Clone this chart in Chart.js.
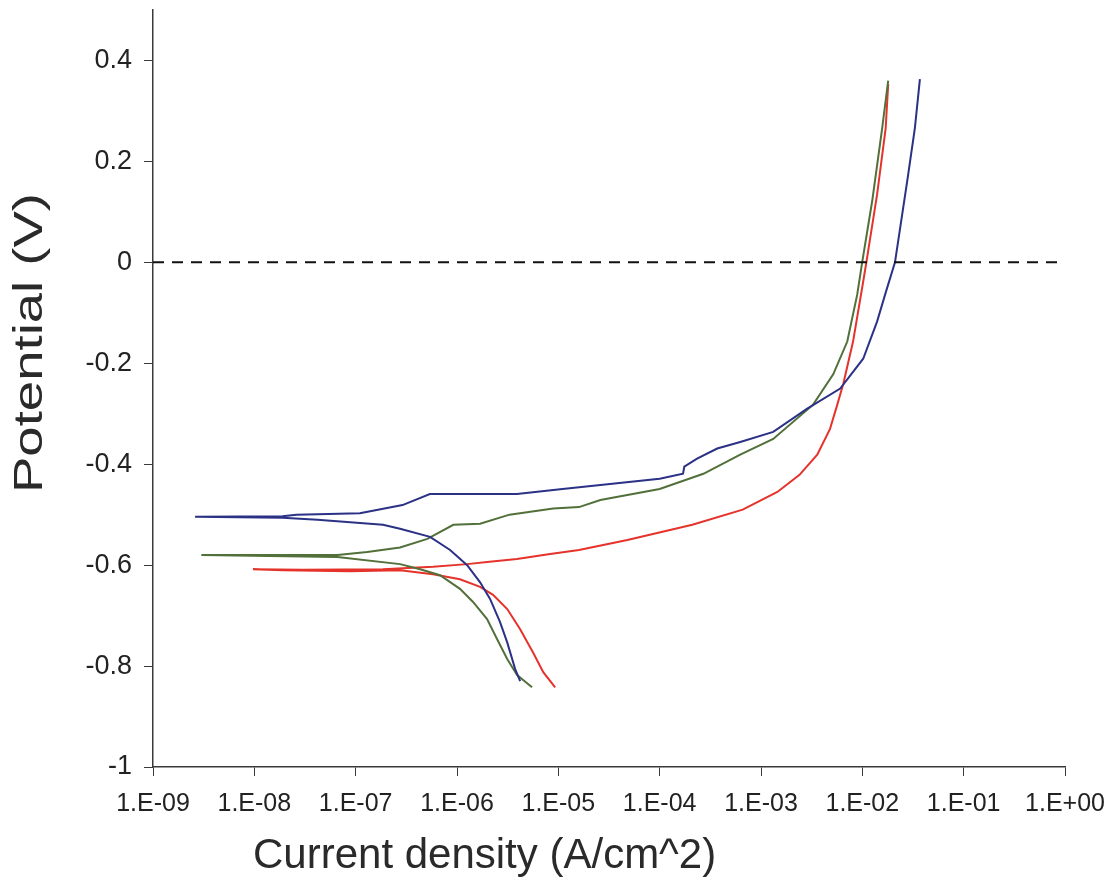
<!DOCTYPE html>
<html>
<head>
<meta charset="utf-8">
<script src="https://cdn.jsdelivr.net/npm/chart.js@4"></script>
<style>
  html, body { margin: 0; padding: 0; background: #fff; }
  #wrap { width: 1118px; height: 883px; position: relative; }
</style>
</head>
<body>
<div id="wrap"><canvas id="chart"></canvas></div>
<script>
// Axis ticks and titles
const xTickValues = [1e-9, 1e-8, 1e-7, 1e-6, 1e-5, 1e-4, 1e-3, 1e-2, 1e-1, 1e0];
const xTickLabels = ['1.E-09', '1.E-08', '1.E-07', '1.E-06', '1.E-05', '1.E-04', '1.E-03', '1.E-02', '1.E-01', '1.E+00'];
const yTickValues = [-1, -0.8, -0.6, -0.4, -0.2, 0, 0.2, 0.4];
const yTickLabels = ['-1', '-0.8', '-0.6', '-0.4', '-0.2', '0', '0.2', '0.4'];
const xTitle = 'Current density (A/cm^2)';
const yTitle = 'Potential (V)';

// Blue curve (cathodic end -> Ecorr tail -> anodic top)
const blueCurrent = [4.2e-6, 3.75e-6, 3.13e-6, 2.66e-6, 2.12e-6, 1.69e-6, 1.26e-6, 8.55e-7, 5.42e-7, 2.74e-7,
  1.86e-7, 4.2e-8, 1.9e-8, 2.6e-9,
  1.9e-8, 2.6e-8, 1.1e-7, 2.9e-7, 5.4e-7, 3.9e-6, 1.1e-5, 1.0e-4, 1.7e-4, 1.75e-4, 2.34e-4, 3.7e-4,
  6.24e-4, 1.32e-3, 2.86e-3, 6.05e-3, 1.02e-2, 1.4e-2, 1.7e-2, 2.1e-2, 2.8e-2, 3.3e-2, 3.7e-2];
const bluePotential = [-0.83, -0.806, -0.753, -0.713, -0.667, -0.634, -0.600, -0.570, -0.544, -0.528,
  -0.520, -0.510, -0.506, -0.504,
  -0.503, -0.500, -0.497, -0.481, -0.459, -0.459, -0.449, -0.429, -0.419, -0.405, -0.389, -0.369,
  -0.356, -0.336, -0.290, -0.250, -0.191, -0.117, -0.06, 0.0, 0.167, 0.266, 0.363];

// Green curve
const greenCurrent = [5.5e-6, 3.92e-6, 3.13e-6, 2.49e-6, 1.98e-6, 1.44e-6, 1.07e-6, 6.8e-7, 4.33e-7, 2.74e-7,
  6.6e-8, 3.0e-9,
  6.6e-8, 1.3e-7, 2.74e-7, 5.1e-7, 9.2e-7, 1.69e-6, 3.3e-6, 8.9e-6, 1.6e-5, 2.6e-5, 1.0e-4, 2.7e-4, 6.24e-4,
  1.32e-3, 3.27e-3, 5.16e-3, 7.1e-3, 8.9e-3, 1.0e-2, 1.25e-2, 1.57e-2, 1.8e-2];
const greenPotential = [-0.842, -0.818, -0.786, -0.747, -0.707, -0.673, -0.647, -0.620, -0.608, -0.598,
  -0.584, -0.580,
  -0.580, -0.574, -0.565, -0.548, -0.520, -0.518, -0.500, -0.488, -0.485, -0.471, -0.449, -0.419, -0.381,
  -0.350, -0.282, -0.222, -0.157, -0.064, 0.002, 0.121, 0.266, 0.36];

// Red curve
const redCurrent = [9.3e-6, 7.1e-6, 5.63e-6, 4.2e-6, 3.13e-6, 2.27e-6, 1.69e-6, 1.07e-6, 5.8e-7, 2.74e-7,
  8.8e-8, 1.9e-8, 9.7e-9,
  3e-8, 1.86e-7, 5.8e-7, 1.26e-6, 1.98e-6, 3.9e-6, 8.3e-6, 1.6e-5, 4.8e-5, 2.1e-4, 6.6e-4, 1.45e-3,
  2.4e-3, 3.59e-3, 4.8e-3, 5.7e-3, 6.5e-3, 8.1e-3, 1.02e-2, 1.1e-2, 1.4e-2, 1.7e-2, 1.8e-2];
const redPotential = [-0.842, -0.812, -0.773, -0.727, -0.687, -0.659, -0.643, -0.628, -0.618, -0.610,
  -0.612, -0.610, -0.608,
  -0.609, -0.608, -0.603, -0.598, -0.594, -0.588, -0.578, -0.570, -0.550, -0.520, -0.490, -0.455,
  -0.421, -0.381, -0.330, -0.280, -0.240, -0.157, -0.038, 0.002, 0.135, 0.266, 0.353];

// Zero potential reference line
const zeroLineCurrent = [1e-9, 1e0];
const zeroLinePotential = [0, 0];

function toPoints(xs, ys) {
  return xs.map((x, i) => ({ x: x, y: ys[i] }));
}

const axisColor = '#3a3a3a';
const fontFamily = '"Liberation Sans", Arial, sans-serif';

// Axis titles drawn by hand: the original has the x title off-centre
// and the y title stretched along its length
const axisTitles = {
  id: 'axisTitles',
  afterDraw(chart) {
    const ctx = chart.ctx;
    ctx.save();
    ctx.fillStyle = '#2a2a2a';
    ctx.textAlign = 'left';
    ctx.textBaseline = 'alphabetic';
    ctx.font = '42px ' + fontFamily;
    ctx.fillText(xTitle, 253, 868);
    ctx.font = '40px ' + fontFamily;
    const w = ctx.measureText(yTitle).width;
    ctx.translate(42, 493);
    ctx.rotate(-Math.PI / 2);
    ctx.scale(300 / w, 1);
    ctx.fillText(yTitle, 0, 0);
    ctx.restore();
  }
};

new Chart(document.getElementById('chart'), {
  type: 'scatter',
  data: {
    datasets: [
      { data: toPoints(zeroLineCurrent, zeroLinePotential), borderColor: '#111', borderWidth: 2,
        borderDash: [11, 8], showLine: true, pointRadius: 0 },
      { data: toPoints(blueCurrent, bluePotential), borderColor: '#2b3185', borderWidth: 2,
        showLine: true, pointRadius: 0 },
      { data: toPoints(greenCurrent, greenPotential), borderColor: '#52703a', borderWidth: 2,
        showLine: true, pointRadius: 0 },
      { data: toPoints(redCurrent, redPotential), borderColor: '#e5332b', borderWidth: 2,
        showLine: true, pointRadius: 0 }
    ]
  },
  plugins: [axisTitles],
  options: {
    responsive: true,
    maintainAspectRatio: false,
    animation: false,
    layout: { padding: { left: 0, right: 53, top: 10, bottom: 0 } },
    plugins: { legend: { display: false }, tooltip: { enabled: false } },
    scales: {
      x: {
        type: 'logarithmic',
        min: 1e-9,
        max: 1e0,
        afterBuildTicks: scale => { scale.ticks = xTickValues.map(v => ({ value: v })); },
        afterFit: scale => { scale.height = 116; },
        ticks: {
          color: '#222',
          font: { family: fontFamily, size: 25 },
          padding: 13,
          maxRotation: 0,
          autoSkip: false,
          callback: (value, index) => xTickLabels[index]
        },
        grid: { drawOnChartArea: false, drawTicks: true, tickLength: 9, color: axisColor },
        border: { color: axisColor, width: 1.5 },
        title: { display: false }
      },
      y: {
        min: -1,
        max: 0.5,
        afterBuildTicks: scale => { scale.ticks = yTickValues.map(v => ({ value: v })); },
        afterFit: scale => {
          scale.width = 153;
          // no tick sits at the top, so drop the room kept for a label there
          scale.paddingTop = 0;
          scale.paddingBottom = 0;
        },
        ticks: {
          color: '#222',
          font: { family: fontFamily, size: 27 },
          padding: 12,
          callback: (value, index) => yTickLabels[index]
        },
        grid: { drawOnChartArea: false, drawTicks: true, tickLength: 9, color: axisColor },
        border: { color: axisColor, width: 1.5 },
        title: { display: false }
      }
    }
  }
});
</script>
</body>
</html>
